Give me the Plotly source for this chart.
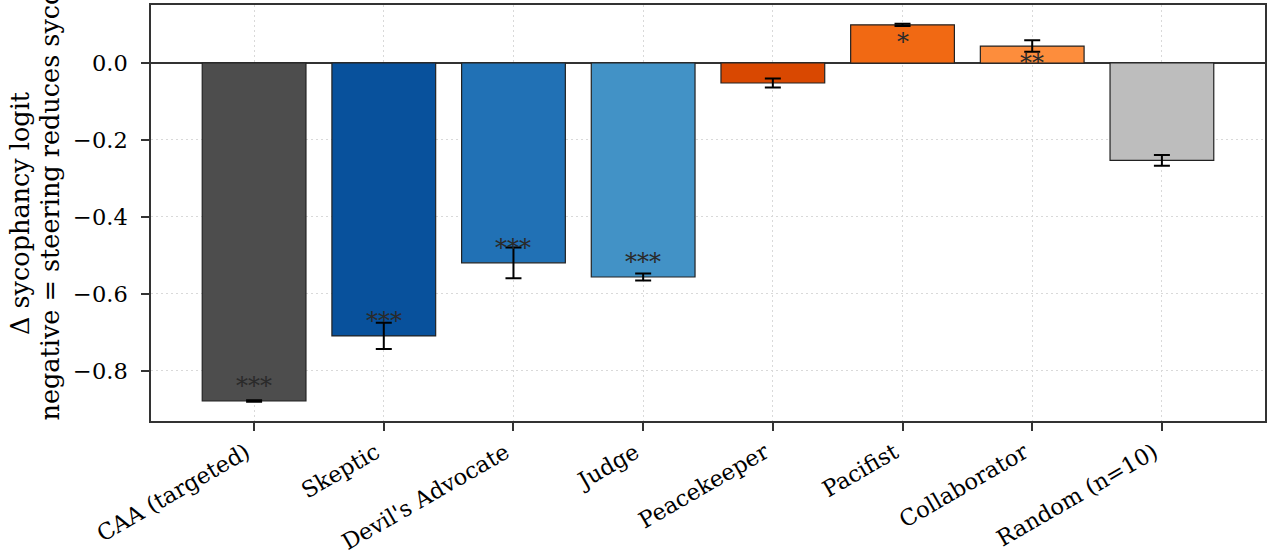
import plotly.graph_objects as go

categories = ["CAA (targeted)", "Skeptic", "Devil's Advocate", "Judge",
              "Peacekeeper", "Pacifist", "Collaborator", "Random (n=10)"]
values = [-0.878, -0.709, -0.519, -0.556, -0.052, 0.099, 0.044, -0.253]
errors = [0.002, 0.034, 0.040, 0.009, 0.012, 0.003, 0.015, 0.014]
stars = ["***", "***", "***", "***", "", "*", "**", ""]
colors = ["#4d4d4d", "#08519c", "#2171b5", "#4292c6",
          "#d94801", "#f16913", "#fd8d3c", "#bdbdbd"]
y_ticks = [0.0, -0.2, -0.4, -0.6, -0.8]
y_ticktext = ["0.0", "\u22120.2", "\u22120.4", "\u22120.6", "\u22120.8"]
ylabel_lines = ["\u0394 sycophancy logit", "negative = steering reduces sycophancy"]

FONT = "DejaVu Serif"
FS = 22.5
LFS = 25.5
x_idx = list(range(len(categories)))

PLOT_L, PLOT_W, PLOT_T, PLOT_H = 151, 1114, 5, 416

fig = go.Figure()
fig.add_trace(go.Bar(
    x=x_idx, y=values, width=0.8,
    marker=dict(color=colors, line=dict(color="#222222", width=1.2)),
    error_y=dict(type="data", array=errors, visible=True,
                 color="black", thickness=2, width=8),
    showlegend=False,
))

for i, (v, s) in enumerate(zip(values, stars)):
    if not s:
        continue
    fig.add_annotation(
        x=i, y=v, xref="x", yref="y", text=s, showarrow=False,
        yanchor="middle", xanchor="center",
        yshift=15 if v < 0 else -17,
        font=dict(family=FONT, size=24, color="#2a2a2a"),
    )

# y-axis label (two lines, as in the reference)
fig.add_annotation(
    text=ylabel_lines[0], textangle=-90, showarrow=False,
    xref="paper", yref="paper",
    x=(20 - PLOT_L) / PLOT_W, y=0.5,
    xanchor="center", yanchor="middle",
    font=dict(family=FONT, size=LFS, color="black"),
)
fig.add_annotation(
    text=ylabel_lines[1], textangle=-90, showarrow=False,
    xref="paper", yref="paper",
    x=(49 - PLOT_L) / PLOT_W, y=(PLOT_T + PLOT_H - 423) / PLOT_H,
    xanchor="center", yanchor="bottom",
    font=dict(family=FONT, size=LFS, color="black"),
)

fig.update_layout(
    width=1270, height=554,
    margin=dict(l=PLOT_L, r=1270 - PLOT_L - PLOT_W, t=PLOT_T, b=554 - PLOT_T - PLOT_H),
    paper_bgcolor="white", plot_bgcolor="white",
    font=dict(family=FONT, size=FS, color="black"),
    bargap=0.2,
)
fig.update_xaxes(
    range=[-0.795, 7.795], automargin=False,
    tickvals=x_idx, ticktext=categories, tickangle=-30,
    ticks="outside", ticklen=8, tickwidth=1.5, tickcolor="#333333",
    ticklabelshift=-8, ticklabelstandoff=0,
    showline=True, linecolor="#333333", linewidth=1.5, mirror=True,
    showgrid=True, gridcolor="#d9d9d9", gridwidth=1, griddash="2px,3px",
    tickfont=dict(family=FONT, size=FS, color="black"),
)
fig.update_yaxes(
    range=[-0.93, 0.1506], automargin=False,
    tickvals=y_ticks, ticktext=y_ticktext,
    ticks="outside", ticklen=8, tickwidth=1.5, tickcolor="#333333",
    ticklabelstandoff=9,
    showline=True, linecolor="#333333", linewidth=1.5, mirror=True,
    showgrid=True, gridcolor="#d9d9d9", gridwidth=1, griddash="2px,3px",
    zeroline=True, zerolinecolor="#333333", zerolinewidth=1.8,
    tickfont=dict(family=FONT, size=FS, color="black"),
)

fig.write_html("out.html", config={"displayModeBar": False},
               post_script="document.body.style.margin='0';document.body.style.overflow='hidden';")
